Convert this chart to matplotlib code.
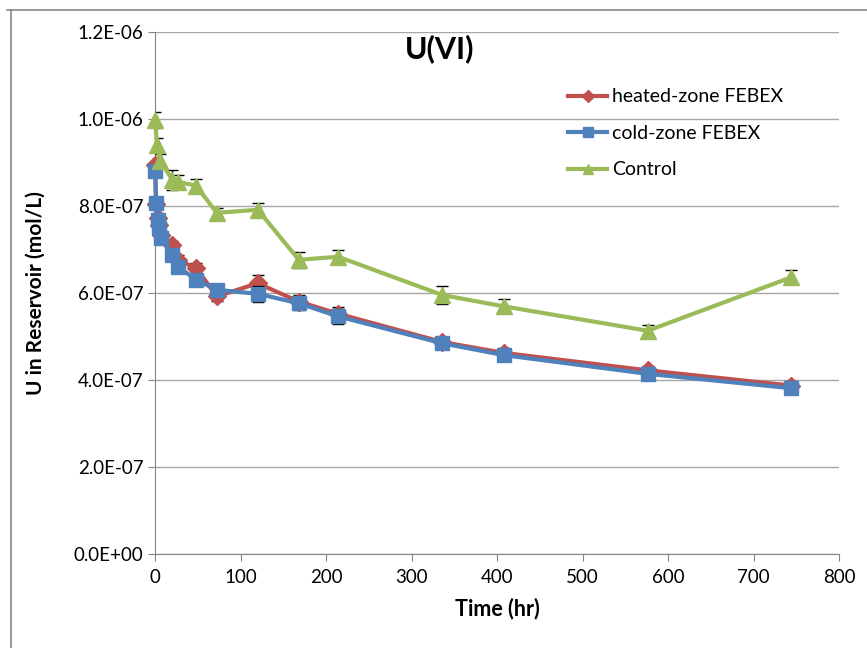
import numpy as np
import matplotlib
matplotlib.use('Agg')
import matplotlib.pyplot as plt
from matplotlib.lines import Line2D

plt.rcParams['font.family'] = ['Lato', 'DejaVu Sans']

# sampling times (hr)
t_zone = [0, 1, 3, 5, 7, 20, 27, 48, 72, 120, 168, 214, 336, 408, 576, 744]
t_ctrl = [0, 2, 6, 20, 27, 48, 72, 120, 168, 214, 336, 408, 576, 744]

# U(VI) in reservoir (mol/L)
heated = [8.95e-7, 8.05e-7, 7.72e-7, 7.55e-7, 7.32e-7, 7.1e-7, 6.75e-7, 6.57e-7,
          5.92e-7, 6.22e-7, 5.8e-7, 5.52e-7, 4.87e-7, 4.62e-7, 4.22e-7, 3.87e-7]
heated_err = [1.0e-8, 1.0e-8, 1.0e-8, 1.0e-8, 1.0e-8, 1.0e-8, 1.2e-8, 1.2e-8,
              1.0e-8, 1.8e-8, 1.5e-8, 1.5e-8, 1.2e-8, 1.2e-8, 1.0e-8, 1.0e-8]
cold = [8.79e-7, 8.07e-7, 7.68e-7, 7.5e-7, 7.26e-7, 6.87e-7, 6.6e-7, 6.3e-7,
        6.07e-7, 5.98e-7, 5.76e-7, 5.46e-7, 4.84e-7, 4.57e-7, 4.14e-7, 3.81e-7]
cold_err = [1.0e-8, 1.0e-8, 1.0e-8, 1.0e-8, 1.0e-8, 1.0e-8, 1.0e-8, 1.0e-8,
            1.0e-8, 1.8e-8, 1.6e-8, 1.8e-8, 1.0e-8, 1.0e-8, 1.0e-8, 1.0e-8]
control = [9.98e-7, 9.4e-7, 9.03e-7, 8.6e-7, 8.55e-7, 8.46e-7, 7.84e-7, 7.91e-7,
           6.76e-7, 6.83e-7, 5.95e-7, 5.69e-7, 5.13e-7, 6.36e-7]
control_err = [1.8e-8, 1.5e-8, 1.5e-8, 2.3e-8, 1.5e-8, 1.6e-8, 1.2e-8, 1.6e-8,
               1.9e-8, 1.6e-8, 2.0e-8, 1.6e-8, 1.4e-8, 1.6e-8]

red = '#C0504D'
blue = '#4F81BD'
green = '#9BBB59'

fig = plt.figure(figsize=(8.67, 6.48), dpi=100)
ax = fig.add_axes([0.179, 0.145, 0.789, 0.806])

series = [
    (t_zone, heated, heated_err, red, 'D', 9, 'heated-zone FEBEX'),
    (t_zone, cold, cold_err, blue, 's', 10, 'cold-zone FEBEX'),
    (t_ctrl, control, control_err, green, '^', 11, 'Control'),
]
handles = []
for i, (t, y, err, c, m, ms, lab) in enumerate(series):
    ax.errorbar(t, y, yerr=err, fmt='none', ecolor='black', elinewidth=1,
                capsize=4, capthick=1, zorder=2 + 2 * i)
    ax.plot(t, y, color=c, lw=3, marker=m, ms=ms, mec=c, mfc=c,
            zorder=3 + 2 * i, clip_on=False)
    handles.append(Line2D([], [], color=c, lw=3, marker=m, ms=ms * 0.7,
                          mec=c, mfc=c, label=lab))

ax.set_xlim(0, 800)
ax.set_ylim(0, 1.2e-6)
ax.set_xticks(np.arange(0, 801, 100))
yt = np.arange(0, 1.21e-6, 2e-7)
ax.set_yticks(yt)
ax.set_yticklabels(['%.1E' % v for v in yt])
ax.yaxis.grid(True, color='#A6A6A6', lw=1)
ax.set_axisbelow(True)
for s in ['top', 'right']:
    ax.spines[s].set_visible(False)
for s in ['left', 'bottom']:
    ax.spines[s].set_color('#868686')
ax.tick_params(axis='both', colors='#868686', labelcolor='black',
               labelsize=13.5, length=5, direction='out')
ax.tick_params(axis='x', pad=6)

ax.set_xlabel('Time (hr)', fontsize=15.5, fontweight='bold', labelpad=8)
ax.set_ylabel('U in Reservoir (mol/L)', fontsize=15, fontweight='bold', labelpad=20)
fig.text(0.5075, 0.925, 'U(VI)', fontsize=22, fontweight='bold',
         ha='center', va='center')

ax.legend(handles=handles, loc='upper left', bbox_to_anchor=(0.578, 0.925),
          frameon=False, fontsize=14, handlelength=2.0, handletextpad=0.25,
          labelspacing=1.0)

# chart border (top and left edge)
fig.add_artist(Line2D([0.008, 1.0], [0.985, 0.985], color='#868686', lw=1.2,
                      transform=fig.transFigure))
fig.add_artist(Line2D([0.013, 0.013], [0.0, 0.985], color='#868686', lw=1.2,
                      transform=fig.transFigure))

fig.savefig('out.png', dpi=100)
